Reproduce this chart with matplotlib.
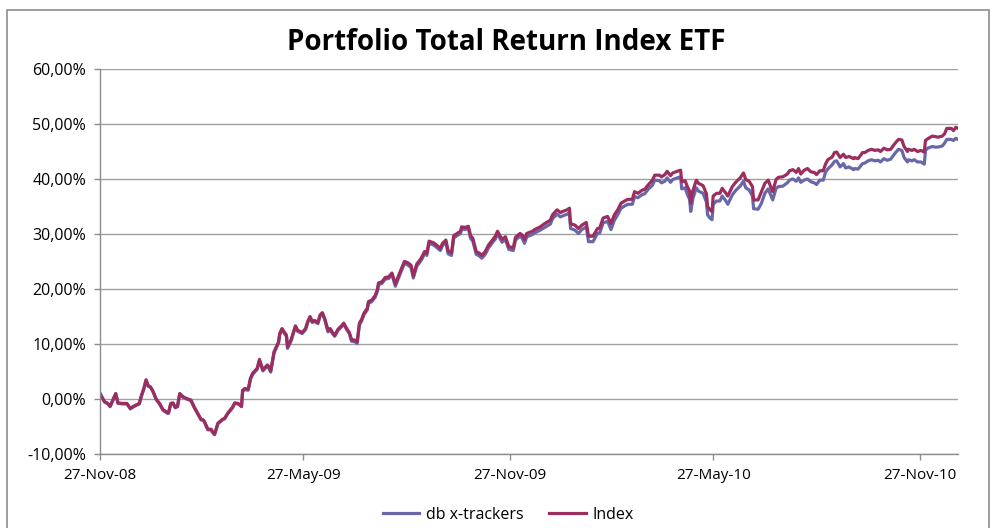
import datetime as dt
import matplotlib
matplotlib.use("Agg")
import matplotlib.pyplot as plt
import matplotlib.dates as mdates
from matplotlib.ticker import FuncFormatter, MultipleLocator
from matplotlib.patches import Rectangle

# days since 27-Nov-2008
days = [0, 4, 7, 9, 12, 14, 16, 20, 24, 27, 30, 35, 37, 39, 41, 43, 45, 47, 50, 53,
        56, 60, 61, 63, 65, 67, 69, 71, 74, 77, 81, 84, 87, 90, 92, 93, 96, 99, 100, 102,
        105, 109, 111, 114, 118, 120, 123, 126, 127, 129, 132, 134, 136, 140, 142, 145, 149, 150, 152, 155,
        159, 160, 162, 166, 167, 170, 174, 176, 180, 183, 185, 187, 189, 191, 194, 196, 198, 200, 203, 205,
        207, 209, 212, 215, 217, 220, 222, 224, 227, 229, 231, 233, 235, 238, 239, 242, 245, 247, 248, 251,
        254, 257, 260, 263, 266, 271, 274, 277, 279, 282, 286, 289, 291, 293, 297, 299, 303, 305, 308, 310,
        313, 315, 318, 321, 322, 325, 328, 330, 332, 335, 338, 340, 343, 346, 349, 352, 354, 358, 361, 364,
        368, 370, 374, 376, 378, 380, 385, 387, 392, 396, 401, 403, 407, 410, 412, 416, 418, 419, 423, 426,
        429, 433, 435, 439, 443, 445, 448, 452, 455, 458, 461, 464, 468, 470, 474, 476, 479, 483, 485, 488,
        492, 494, 498, 500, 503, 505, 508, 510, 514, 517, 518, 521, 523, 525, 526, 528, 531, 533, 537, 540,
        541, 543, 545, 546, 549, 552, 554, 557, 559, 563, 566, 570, 573, 575, 578, 581, 582, 586, 589, 592,
        595, 597, 599, 602, 604, 608, 612, 614, 617, 620, 622, 624, 627, 630, 633, 636, 638, 641, 644, 646,
        648, 652, 654, 656, 659, 662, 664, 667, 671, 672, 675, 679, 681, 684, 687, 690, 693, 695, 698, 701,
        704, 708, 711, 714, 716, 719, 720, 723, 725, 728, 731, 734, 735, 737, 741, 744, 746, 750, 752, 754,
        758, 760, 762, 764]

index_ret = [1.0, -0.5, -0.8, -1.3, 0.1, 1.0, -0.7, -0.8, -0.8, -1.7, -1.3, -0.8, 0.7, 1.9, 3.5, 2.4, 2.2, 1.5, 0.0, -0.8,
             -1.9, -2.5, -2.5, -0.8, -0.7, -1.5, -1.3, 1.0, 0.4, 0.1, -0.2, -1.5, -2.6, -3.7, -3.8, -4.1, -5.5, -5.5, -5.9, -6.4,
             -4.4, -3.7, -3.5, -2.5, -1.5, -0.7, -0.8, -1.3, 1.6, 1.9, 1.8, 3.8, 4.7, 5.6, 7.2, 5.3, 6.2, 6.0, 5.1, 8.6,
             10.4, 11.9, 12.8, 11.6, 9.5, 10.7, 13.3, 12.5, 12.1, 12.8, 14.1, 15.0, 14.1, 14.3, 13.9, 15.3, 15.7, 14.7, 12.5, 12.8,
             12.1, 11.6, 12.7, 13.3, 13.8, 12.7, 12.1, 10.8, 10.7, 10.4, 13.8, 14.5, 15.6, 16.5, 17.7, 18.0, 18.8, 19.9, 21.1, 21.3,
             22.1, 22.2, 22.9, 20.9, 22.5, 25.0, 24.8, 24.3, 22.4, 24.5, 25.6, 26.8, 26.5, 28.7, 28.4, 28.1, 27.4, 28.3, 28.9, 26.9,
             26.6, 29.7, 30.1, 30.5, 31.3, 31.2, 31.4, 29.7, 29.2, 26.8, 26.5, 26.1, 26.8, 28.0, 28.8, 29.6, 30.5, 29.0, 29.5, 27.7,
             27.5, 29.4, 30.1, 29.8, 29.0, 30.1, 30.5, 30.8, 31.3, 31.9, 32.5, 33.5, 34.4, 33.9, 34.1, 34.4, 34.7, 31.9, 31.6, 31.0,
             31.6, 32.1, 29.6, 29.6, 31.0, 31.1, 32.9, 33.2, 31.9, 33.5, 34.4, 35.6, 36.1, 36.3, 36.3, 37.7, 37.4, 38.0, 38.1, 38.9,
             39.8, 40.7, 40.7, 40.4, 40.8, 41.4, 40.6, 41.1, 41.4, 41.6, 39.5, 39.7, 38.6, 37.8, 35.6, 37.9, 39.8, 39.2, 38.8, 37.3,
             35.0, 34.4, 34.1, 36.9, 37.4, 37.4, 38.3, 37.5, 36.9, 38.6, 39.4, 40.2, 41.1, 39.9, 39.6, 38.6, 36.2, 36.2, 37.7, 39.2,
             39.8, 38.7, 37.7, 39.9, 40.3, 40.4, 40.9, 41.5, 41.7, 41.2, 41.9, 40.9, 41.6, 41.9, 41.3, 41.2, 40.8, 41.5, 41.5, 42.7,
             43.5, 44.0, 44.8, 44.9, 43.9, 44.5, 43.9, 44.1, 43.7, 43.9, 43.7, 44.8, 44.8, 45.2, 45.4, 45.2, 45.3, 45.0, 45.6, 45.3,
             45.4, 46.5, 47.2, 47.1, 45.9, 45.0, 45.4, 45.2, 45.4, 45.0, 45.2, 44.9, 47.0, 47.3, 47.8, 47.7, 47.6, 47.8, 48.2, 49.2,
             49.2, 48.8, 49.4, 49.2]

db_ret = [1.0, -0.5, -0.9, -1.4, 0.0, 0.9, -0.8, -0.9, -0.9, -1.8, -1.4, -0.9, 0.6, 1.8, 3.3, 2.3, 2.1, 1.4, -0.1, -0.9,
          -2.0, -2.6, -2.6, -0.9, -0.8, -1.6, -1.4, 0.9, 0.3, 0.0, -0.3, -1.6, -2.7, -3.8, -3.9, -4.2, -5.6, -5.6, -6.0, -6.5,
          -4.5, -3.8, -3.6, -2.6, -1.6, -0.8, -0.9, -1.4, 1.4, 1.7, 1.6, 3.6, 4.5, 5.4, 7.0, 5.1, 6.0, 5.8, 4.9, 8.4,
          10.2, 11.7, 12.6, 11.4, 9.2, 10.5, 13.1, 12.3, 11.9, 12.6, 13.9, 14.8, 13.9, 14.1, 13.7, 15.1, 15.5, 14.5, 12.2, 12.6,
          11.9, 11.4, 12.5, 13.1, 13.6, 12.5, 11.9, 10.5, 10.4, 10.1, 13.5, 14.2, 15.3, 16.2, 17.4, 17.7, 18.5, 19.6, 20.8, 21.0,
          21.8, 21.9, 22.6, 20.5, 22.1, 24.6, 24.4, 23.9, 22.0, 24.1, 25.2, 26.4, 26.1, 28.3, 28.0, 27.7, 27.0, 27.9, 28.5, 26.4,
          26.1, 29.3, 29.7, 30.1, 30.9, 30.8, 31.0, 29.2, 28.7, 26.3, 26.0, 25.6, 26.3, 27.5, 28.3, 29.1, 30.0, 28.5, 29.0, 27.2,
          27.0, 28.9, 29.6, 29.2, 28.3, 29.5, 29.9, 30.2, 30.7, 31.2, 31.8, 32.8, 33.6, 33.1, 33.3, 33.6, 33.9, 31.0, 30.7, 30.1,
          30.8, 31.3, 28.6, 28.6, 30.1, 30.2, 32.0, 32.3, 30.8, 32.5, 33.5, 34.7, 35.2, 35.4, 35.4, 36.8, 36.6, 37.2, 37.3, 38.1,
          38.9, 39.8, 39.7, 39.3, 39.6, 40.2, 39.4, 39.9, 40.2, 40.4, 38.2, 38.4, 37.2, 36.3, 34.1, 36.5, 38.4, 37.8, 37.4, 35.8,
          33.5, 32.9, 32.6, 35.4, 36.0, 36.0, 36.9, 36.1, 35.4, 37.1, 37.9, 38.7, 39.6, 38.4, 38.0, 36.9, 34.6, 34.5, 35.6, 37.4,
          38.2, 37.2, 36.2, 38.3, 38.6, 38.7, 39.3, 39.8, 40.0, 39.6, 40.2, 39.4, 39.8, 40.0, 39.5, 39.3, 39.0, 39.8, 39.8, 41.2,
          41.8, 42.6, 43.2, 43.3, 42.2, 42.8, 42.0, 42.2, 41.7, 41.9, 41.8, 42.8, 42.9, 43.3, 43.5, 43.3, 43.4, 43.1, 43.7, 43.4,
          43.6, 44.7, 45.4, 45.2, 43.9, 43.1, 43.5, 43.3, 43.5, 43.1, 43.1, 42.7, 45.2, 45.6, 45.9, 45.8, 45.8, 46.0, 46.5, 47.2,
          47.2, 47.0, 47.4, 47.2]

start = dt.date(2008, 11, 27)
dates = [start + dt.timedelta(days=d) for d in days]
tick_dates = [dt.date(2008, 11, 27), dt.date(2009, 5, 27), dt.date(2009, 11, 27),
              dt.date(2010, 5, 27), dt.date(2010, 11, 27)]

plt.rcParams['font.family'] = ['Open Sans', 'DejaVu Sans']

fig = plt.figure(figsize=(9.92, 5.28), dpi=100)
ax = fig.add_axes([100/992, 1 - 454/528, 858/992, 385/528])

# chart frame
fig.patches.append(Rectangle((7/992, -0.02), 982/992, 1 - 10/528 + 0.02,
                             transform=fig.transFigure, fill=False,
                             edgecolor='#8c8c8c', linewidth=1.2))

ax.plot(dates, db_ret, color='#6767a9', linewidth=2.3, label='db x-trackers')
ax.plot(dates, index_ret, color='#9b2d5f', linewidth=2.3, label='Index')

ax.set_ylim(-10, 60)
ax.yaxis.set_major_locator(MultipleLocator(10))
ax.yaxis.set_major_formatter(FuncFormatter(lambda v, p: f"{v:.2f}%".replace('.', ',')))
ax.set_xlim(dates[0], dates[-1])
ax.set_xticks(tick_dates)
ax.xaxis.set_major_formatter(mdates.DateFormatter('%d-%b-%y'))

ax.grid(axis='y', color='#a0a0a0', linewidth=1.0)
ax.set_axisbelow(True)
for s in ['top', 'right']:
    ax.spines[s].set_visible(False)
for s in ['left', 'bottom']:
    ax.spines[s].set_color('#8c8c8c')
    ax.spines[s].set_linewidth(1.0)
ax.tick_params(axis='both', colors='#8c8c8c', labelcolor='black', labelsize=11,
               length=4, width=1.0)
ax.tick_params(axis='y', labelsize=11.5, pad=6)
ax.tick_params(axis='x', pad=6)

fig.text(506/992, 1 - 42/528, 'Portfolio Total Return Index ETF', ha='center', va='center',
         fontsize=20, fontweight='bold')

fig.legend(loc='center', bbox_to_anchor=(508/992, 1 - 515/528), ncol=2, frameon=False,
           fontsize=11.5, handlelength=2.3, columnspacing=1.6, handletextpad=0.4)

fig.savefig('out.png', dpi=100)
